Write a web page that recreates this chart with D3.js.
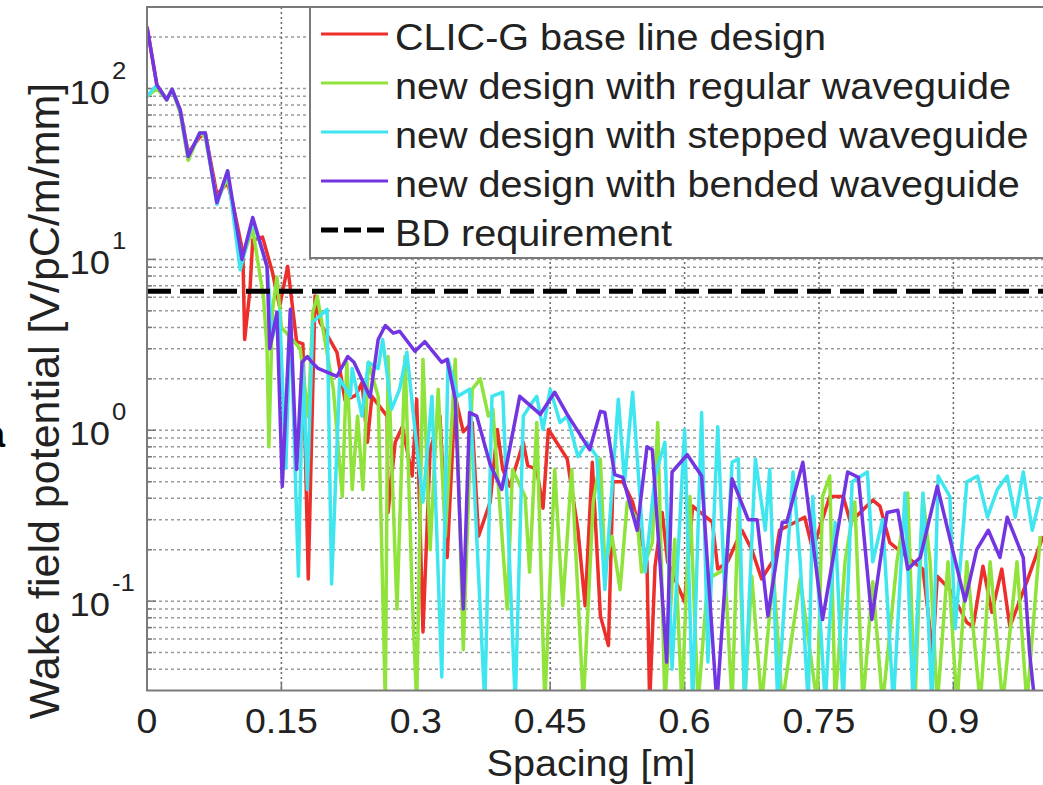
<!DOCTYPE html>
<html lang="en">
<head>
<meta charset="UTF-8">
<title>Wake field potential vs spacing</title>
<script src="https://d3js.org/d3.v7.min.js"></script>
<style>
  html, body { margin: 0; padding: 0; background: #fff; overflow: hidden; }
  svg { display: block; }
  text { font-family: "Liberation Sans", Arial, sans-serif; fill: #222; }
</style>
</head>
<body>
<div id="chart"></div>
<script>
// ---- data: [spacing m, wake V/pC/m/mm] ----
const xTicks = [0, 0.15, 0.3, 0.45, 0.6, 0.75, 0.9];
const xTickLabels = ["0", "0.15", "0.3", "0.45", "0.6", "0.75", "0.9"];
const yDecades = [-1, 0, 1, 2];
const bdRequirement = 6.5;

const legendNames = [
  "CLIC-G base line design",
  "new design with regular waveguide",
  "new design with stepped waveguide",
  "new design with bended waveguide",
  "BD requirement"
];

const baseline = [
  [0,230],[.011,105],[.022,86],[.028,99],[.037,75],[.046,42],[.059,52],[.065,55],[.078,24],[.090,28],
  [.096,21],[.107,11],[.109,3.4],[.115,6.7],[.118,13],[.129,13.5],[.140,8.4],[.148,5.3],[.157,9.1],
  [.167,3.3],[.174,3.2],[.180,0.135],[.1875,6.1],[.193,4.3],[.212,2.86],[.221,1.5],[.233,1.6],[.240,1.9],
  [.246,0.85],[.251,1.58],[.268,1.21],[.269,0.33],[.277,0.85],[.285,1.05],[.296,0.54],[.301,1.52],
  [.308,0.066],[.316,0.77],[.327,1.21],[.335,0.18],[.344,1.58],[.353,0.98],[.363,1.11],[.370,0.24],
  [.383,0.38],[.391,1.01],[.397,0.59],[.405,0.47],[.420,0.85],[.425,0.62],[.435,0.59],[.442,0.35],
  [.448,1.01],[.469,0.68],[.481,0.26],[.489,0.094],[.497,0.65],[.506,0.082],[.515,0.055],[.520,0.50],
  [.531,0.50],[.542,0.38],[.558,0.17],[.561,0.025],[.567,0.16],[.575,0.33],[.581,0.17],[.600,0.099],
  [.609,0.36],[.631,0.29],[.637,0.154],[.648,0.17],[.664,0.26],[.675,0.20],[.686,0.135],[.701,0.18],
  [.706,0.26],[.734,0.31],[.743,0.20],[.762,0.41],[.777,0.41],[.785,0.29],[.810,0.39],[.818,0.36],
  [.829,0.22],[.855,0.17],[.866,0.154],[.877,0.05],[.882,0.14],[.896,0.117],[.915,0.075],[.922,0.071],
  [.933,0.16],[.943,0.086],[.954,0.154],[.963,0.071],[.982,0.13],[1.0,0.24]
];

const regular = [
  [0,90],[.011,100],[.022,86],[.028,99],[.037,72],[.046,38],[.059,55],[.065,52],[.078,22],[.090,30],
  [.106,10],[.118,15],[.130,6],[.134,3.0],[.136,0.8],[.140,5],[.145,7.9],[.150,4],[.160,3.5],[.171,3.0],
  [.180,1.2],[.185,4.9],[.190,6.1],[.208,1.74],[.218,0.41],[.223,2.5],[.229,0.45],[.235,1.21],[.241,0.45],
  [.247,2.5],[.258,1.58],[.266,0.025],[.269,2.7],[.279,0.09],[.288,2.7],[.296,0.107],[.301,0.025],
  [.308,2.6],[.316,0.20],[.325,1.74],[.333,0.24],[.344,2.6],[.353,0.052],[.363,1.74],[.372,2.0],
  [.381,1.21],[.386,1.33],[.402,0.09],[.408,0.59],[.422,0.41],[.427,0.148],[.435,1.11],[.444,0.025],
  [.455,0.59],[.464,0.094],[.474,0.59],[.487,0.025],[.498,0.38],[.506,0.68],[.511,0.16],[.519,0.24],
  [.528,0.117],[.536,0.38],[.547,0.30],[.552,0.148],[.564,0.22],[.570,1.11],[.578,0.025],[.589,0.23],
  [.597,0.025],[.606,0.41],[.615,0.025],[.626,0.135],[.645,0.154],[.653,0.025],[.660,0.35],[.667,0.025],
  [.675,0.14],[.686,0.025],[.699,0.148],[.709,0.025],[.729,0.135],[.748,0.025],[.754,0.41],[.762,0.54],
  [.768,0.025],[.779,0.17],[.790,0.38],[.799,0.025],[.810,0.13],[.821,0.025],[.837,0.17],[.849,0.43],
  [.857,0.025],[.866,0.41],[.874,0.17],[.882,0.025],[.894,0.17],[.904,0.025],[.915,0.17],[.930,0.025],
  [.941,0.17],[.955,0.025],[.971,0.17],[.982,0.025],[.997,0.24]
];

const stepped = [
  [0,90],[.011,105],[.022,86],[.028,99],[.037,75],[.046,40],[.059,55],[.065,55],[.078,21],[.090,33],
  [.104,8.7],[.118,17],[.134,9.1],[.140,3.5],[.148,5],[.155,0.6],[.160,5],[.169,0.14],[.174,2.5],
  [.179,0.45],[.185,4.3],[.201,5.1],[.206,0.126],[.215,2.0],[.227,1.58],[.229,2.3],[.240,1.21],
  [.247,2.5],[.258,2.3],[.263,3.4],[.273,1.33],[.282,1.74],[.290,2.86],[.299,1.01],[.308,0.38],
  [.318,1.58],[.329,0.036],[.336,2.6],[.347,1.58],[.360,1.74],[.377,0.025],[.385,1.58],[.397,1.67],
  [.411,0.025],[.420,1.21],[.430,1.46],[.435,1.58],[.442,1.01],[.450,1.74],[.461,1.11],[.469,1.21],
  [.481,0.70],[.491,0.85],[.502,0.70],[.511,0.117],[.526,1.52],[.533,0.50],[.542,1.67],[.556,0.148],
  [.567,0.54],[.578,0.85],[.586,0.040],[.600,1.01],[.609,0.025],[.619,1.27],[.626,0.044],[.637,1.05],
  [.645,0.107],[.653,0.65],[.660,0.68],[.667,0.025],[.679,0.68],[.690,0.26],[.695,0.59],[.704,0.025],
  [.721,0.57],[.729,0.17],[.738,0.025],[.743,0.41],[.757,0.025],[.768,0.29],[.777,0.025],[.787,0.50],
  [.804,0.57],[.810,0.17],[.821,0.30],[.833,0.025],[.846,0.43],[.855,0.025],[.866,0.43],[.876,0.025],
  [.883,0.54],[.896,0.41],[.902,0.069],[.915,0.50],[.927,0.54],[.938,0.31],[.949,0.45],[.960,0.54],
  [.969,0.31],[.978,0.57],[.988,0.26],[.997,0.41]
];

const bended = [
  [0,230],[.011,105],[.022,86],[.028,99],[.037,75],[.046,40],[.059,55],[.065,55],[.078,21.5],[.090,33],
  [.106,10],[.118,17.6],[.134,9.1],[.137,3.0],[.145,4.9],[.151,0.47],[.160,5.1],[.167,0.59],[.173,2.5],
  [.179,2.7],[.184,2.5],[.191,2.3],[.212,2.07],[.224,2.7],[.231,2.5],[.249,1.56],[.258,3.4],[.266,4.1],
  [.275,3.7],[.282,3.8],[.299,2.9],[.310,3.3],[.329,2.5],[.335,2.6],[.344,1.52],[.353,0.09],[.360,1.27],
  [.368,1.21],[.383,0.63],[.396,0.45],[.416,1.58],[.439,1.24],[.455,1.67],[.469,1.24],[.494,0.77],
  [.506,1.29],[.511,1.27],[.522,0.55],[.531,0.53],[.547,0.26],[.558,0.8],[.564,0.77],[.580,0.044],
  [.586,0.57],[.603,0.72],[.619,0.54],[.636,0.025],[.653,0.52],[.671,0.30],[.681,0.30],[.693,0.082],
  [.709,0.29],[.714,0.29],[.732,0.65],[.754,0.078],[.782,0.57],[.794,0.53],[.809,0.078],[.826,0.33],
  [.838,0.34],[.849,0.154],[.863,0.18],[.882,0.47],[.913,0.10],[.926,0.20],[.939,0.26],[.952,0.18],
  [.960,0.31],[.978,0.18],[.985,0.05],[.993,0.02],[1.0,0.015]
];

const seriesList = [baseline, regular, stepped, bended];
const seriesColors = ["#ec2f2a", "#8fe33a", "#3fe6ef", "#7334e2"];

// ---- layout ----
const W = 1043, H = 785;
const plot = { left: 147, top: 7, right: 1043, bottom: 690.5 };

const svg = d3.select("#chart").append("svg")
  .attr("width", W)
  .attr("height", H);

const x = d3.scaleLinear().domain([0, 1]).range([plot.left, plot.right]);
const y = d3.scaleLog().domain([0.03, 300]).range([plot.bottom, plot.top]);

svg.append("defs").append("clipPath").attr("id", "plotClip")
  .append("rect")
  .attr("x", plot.left).attr("y", plot.top)
  .attr("width", plot.right - plot.left).attr("height", plot.bottom - plot.top);

// grid lines (MATLAB style dotted)
const minorVals = [];
[-2, -1, 0, 1, 2].forEach(d => {
  for (let k = 1; k <= 9; k++) {
    const v = k * Math.pow(10, d);
    if (v > 0.03 && v < 300) minorVals.push(v);
  }
});

const grid = svg.append("g");
grid.selectAll(".hgrid")
  .data(minorVals)
  .enter().append("line")
  .attr("x1", plot.left).attr("x2", plot.right)
  .attr("y1", d => y(d)).attr("y2", d => y(d))
  .attr("stroke", "#9c9c9c")
  .attr("stroke-width", 1.5)
  .attr("stroke-dasharray", "3,3");

grid.selectAll(".vgrid")
  .data(xTicks.slice(1))
  .enter().append("line")
  .attr("x1", d => x(d)).attr("x2", d => x(d))
  .attr("y1", plot.top).attr("y2", plot.bottom)
  .attr("stroke", "#666")
  .attr("stroke-width", 1.5)
  .attr("stroke-dasharray", "2,3");

// tick marks inside the axes
grid.selectAll(".ytick")
  .data(minorVals)
  .enter().append("line")
  .attr("x1", plot.left).attr("x2", d => plot.left + (yDecades.includes(Math.round(Math.log10(d) * 1000) / 1000) ? 9 : 5))
  .attr("y1", d => y(d)).attr("y2", d => y(d))
  .attr("stroke", "#777").attr("stroke-width", 1.5);

grid.selectAll(".xtick")
  .data(xTicks)
  .enter().append("line")
  .attr("x1", d => x(d)).attr("x2", d => x(d))
  .attr("y1", plot.bottom).attr("y2", plot.bottom - 9)
  .attr("stroke", "#777").attr("stroke-width", 1.5);

// data lines
const line = d3.line()
  .x(d => x(d[0]))
  .y(d => y(Math.max(d[1], 0.005)));

const lines = svg.append("g").attr("clip-path", "url(#plotClip)");
seriesList.forEach((s, i) => {
  lines.append("path")
    .datum(s)
    .attr("d", line)
    .attr("fill", "none")
    .attr("stroke", seriesColors[i])
    .attr("stroke-width", 3.5)
    .attr("stroke-linejoin", "round");
});

// BD requirement
lines.append("line")
  .attr("x1", x(0)).attr("x2", x(1))
  .attr("y1", y(bdRequirement)).attr("y2", y(bdRequirement))
  .attr("stroke", "#000")
  .attr("stroke-width", 5)
  .attr("stroke-dasharray", "24,9");

// frame
svg.append("rect")
  .attr("x", plot.left).attr("y", plot.top)
  .attr("width", plot.right - plot.left + 4).attr("height", plot.bottom - plot.top)
  .attr("fill", "none")
  .attr("stroke", "#7a7a7a")
  .attr("stroke-width", 2);

// helper: horizontally stretched text, as in the picture
function stretchedText(g, tx, ty, str, size, anchor) {
  return g.append("text")
    .attr("transform", `translate(${tx},${ty}) scale(1.07,1)`)
    .attr("text-anchor", anchor || "start")
    .attr("font-size", size)
    .text(str);
}

// x tick labels
const xAxisG = svg.append("g");
xTicks.forEach((t, i) => {
  stretchedText(xAxisG, x(t), 733, xTickLabels[i], 35, "middle");
});
stretchedText(xAxisG, (plot.left + plot.right) / 2 - 4, 776, "Spacing [m]", 37, "middle");

// y tick labels: 10 with exponent
const yAxisG = svg.append("g");
yDecades.forEach(d => {
  const yy = y(Math.pow(10, d));
  stretchedText(yAxisG, 110, yy + 15, "10", 34, "end");
  stretchedText(yAxisG, 112, yy - 10, String(d), 24, "start");
});

// y axis title
svg.append("text")
  .attr("transform", "translate(59,401) rotate(-90)")
  .attr("text-anchor", "middle")
  .attr("font-size", 43)
  .text("Wake field potential [V/pC/m/mm]");

// cut-off glyph at the left edge (also cut in the source picture)
svg.append("text")
  .attr("x", -15).attr("y", 447)
  .attr("font-size", 36)
  .attr("font-weight", "bold")
  .style("fill", "#000")
  .text("a");

// legend
const legend = svg.append("g");
legend.append("rect")
  .attr("x", 310).attr("y", plot.top)
  .attr("width", 760).attr("height", 258 - plot.top)
  .attr("fill", "#fff")
  .attr("stroke", "#7a7a7a")
  .attr("stroke-width", 2);

const legendColors = seriesColors.concat(["#000"]);
legendNames.forEach((name, i) => {
  const base = 50 + i * 49;
  const isBD = i === 4;
  legend.append("line")
    .attr("x1", 321).attr("x2", 388)
    .attr("y1", base - 16).attr("y2", base - 16)
    .attr("stroke", legendColors[i])
    .attr("stroke-width", isBD ? 5 : 3)
    .attr("stroke-dasharray", isBD ? "17,6" : null);
  stretchedText(legend, 395, base, name, 37, "start");
});
</script>
</body>
</html>
